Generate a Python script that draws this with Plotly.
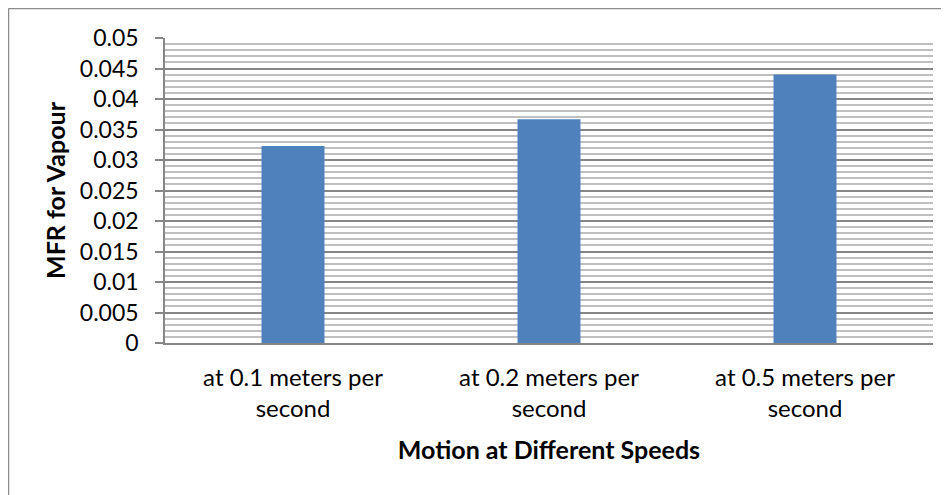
import plotly.graph_objects as go

categories = ["at 0.1 meters per<br>second", "at 0.2 meters per<br>second", "at 0.5 meters per<br>second"]
mfr_values = [0.0323, 0.0367, 0.0440]
y_tick_vals = [0, 0.005, 0.01, 0.015, 0.02, 0.025, 0.03, 0.035, 0.04, 0.045, 0.05]
y_tick_text = ["0", "0.005", "0.01", "0.015", "0.02", "0.025", "0.03", "0.035", "0.04", "0.045", "0.05"]

FONT = "Lato"
# page body has an 8px margin, so the figure is sized to fit inside the window
W, H = 941, 487
ML, MR, MT, MB = 157, 16, 30, 151.5
PW = W - ML - MR
PH = H - MT - MB

bx0 = (0.5 - ML) / PW
bx1 = 1 + (MR + 10) / PW
by0 = -(MB + 10) / PH
by1 = 1 + (MT - 0.5) / PH
border = dict(color="#8c8c8c", width=1.5)

fig = go.Figure()
fig.add_trace(go.Bar(x=categories, y=mfr_values, marker=dict(color="#4F81BD", line=dict(width=0)), width=0.246))

fig.update_layout(
    width=W, height=H,
    margin=dict(l=ML, r=MR, t=MT, b=MB, pad=0),
    paper_bgcolor="white", plot_bgcolor="white",
    font=dict(family=FONT, size=23, color="black"),
    showlegend=False,
    shapes=[
        dict(type="line", xref="paper", yref="paper", x0=bx0, x1=bx0, y0=by0, y1=by1, line=border, layer="below"),
        dict(type="line", xref="paper", yref="paper", x0=bx0, x1=bx1, y0=by1, y1=by1, line=border, layer="below"),
    ],
)
fig.update_yaxes(
    range=[0, 0.05], tickvals=y_tick_vals, ticktext=y_tick_text,
    showline=True, linecolor="#868686", linewidth=1.5,
    ticks="outside", ticklen=8, tickcolor="#868686", tickwidth=1.5,
    ticklabelstandoff=12,
    showgrid=True, gridcolor="#868686", gridwidth=1.5,
    minor=dict(dtick=0.001, showgrid=True, gridcolor="#bfbfbf", gridwidth=1.5, ticks=""),
    zeroline=False,
    title=dict(text="<b>MFR for Vapour</b>", font=dict(size=25), standoff=7),
)
fig.update_xaxes(
    showline=True, linecolor="#868686", linewidth=1.5, ticks="",
    tickfont=dict(size=24),
    ticklabelstandoff=12,
    title=dict(text="<b>Motion at Different Speeds</b>", font=dict(size=25), standoff=21),
)
fig.write_html("out.html")
